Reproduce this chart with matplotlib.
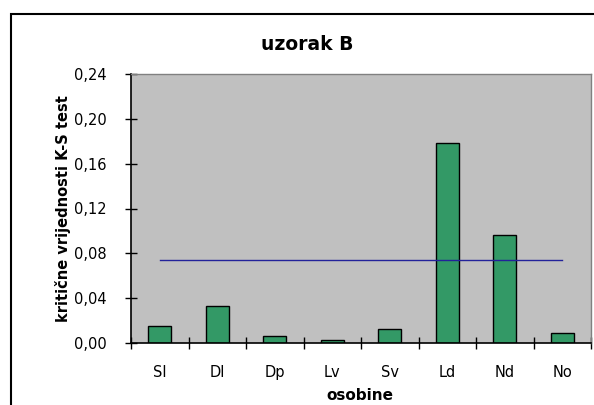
import matplotlib.pyplot as plt
from matplotlib.patches import Rectangle
from matplotlib.ticker import FuncFormatter

categories = ['Sl', 'Dl', 'Dp', 'Lv', 'Sv', 'Ld', 'Nd', 'No']
values = [0.0152, 0.033, 0.006, 0.0024, 0.0128, 0.178, 0.096, 0.0092]
critical = [0.074] * len(categories)
yticks = [0.0, 0.04, 0.08, 0.12, 0.16, 0.20, 0.24]

# Excel-style text is wide, DejaVu gets closer to it than Arial clones
plt.rcParams['font.family'] = ['DejaVu Sans']

fig = plt.figure(figsize=(5.94, 4.05), dpi=100)
fig.patch.set_facecolor('white')
ax = fig.add_axes([131 / 594, 1 - 343 / 405, 460 / 594, 269 / 405])
ax.set_facecolor('#c0c0c0')

x = list(range(len(categories)))
ax.bar(x, values, width=0.4, color='#339966', edgecolor='black', linewidth=1, zorder=2)
ax.plot(x, critical, color='#22229a', linewidth=1, zorder=3)

ax.set_xlim(-0.5, len(categories) - 0.5)
ax.set_ylim(0, 0.24)
ax.set_yticks(yticks)
ax.yaxis.set_major_formatter(FuncFormatter(lambda v, p: f"{v:.2f}".replace('.', ',')))
ax.set_xticks(x)
ax.set_xticklabels(categories, fontsize=10.5)
ax.set_xticks([i - 0.5 for i in range(len(categories) + 1)], minor=True)
ax.tick_params(axis='x', which='major', length=0, pad=16)
ax.tick_params(axis='x', which='minor', length=8, direction='inout', width=1)
ax.tick_params(axis='y', length=9, direction='inout', width=1, labelsize=10.5, pad=13)

for side in ['top', 'right']:
    ax.spines[side].set_color('#808080')
    ax.spines[side].set_linewidth(1)
for side in ['left', 'bottom']:
    ax.spines[side].set_color('black')
    ax.spines[side].set_linewidth(1.2)

fig.text(307 / 594, 1 - 45 / 405, 'uzorak B', ha='center', va='center',
         fontsize=13.5, fontweight='bold')
fig.text(63 / 594, 1 - 209 / 405, 'kritične vrijednosti K-S test', ha='center', va='center',
         rotation=90, fontsize=10.5, fontweight='bold')
fig.text(360 / 594, 1 - 396 / 405, 'osobine', ha='center', va='center',
         fontsize=11, fontweight='bold')

fig.patches.append(Rectangle((11 / 594, -0.05), 1.1, 1 - 14 / 405 + 0.05,
                             transform=fig.transFigure, fill=False,
                             edgecolor='black', linewidth=1.5))

fig.savefig('out.png', dpi=100)
